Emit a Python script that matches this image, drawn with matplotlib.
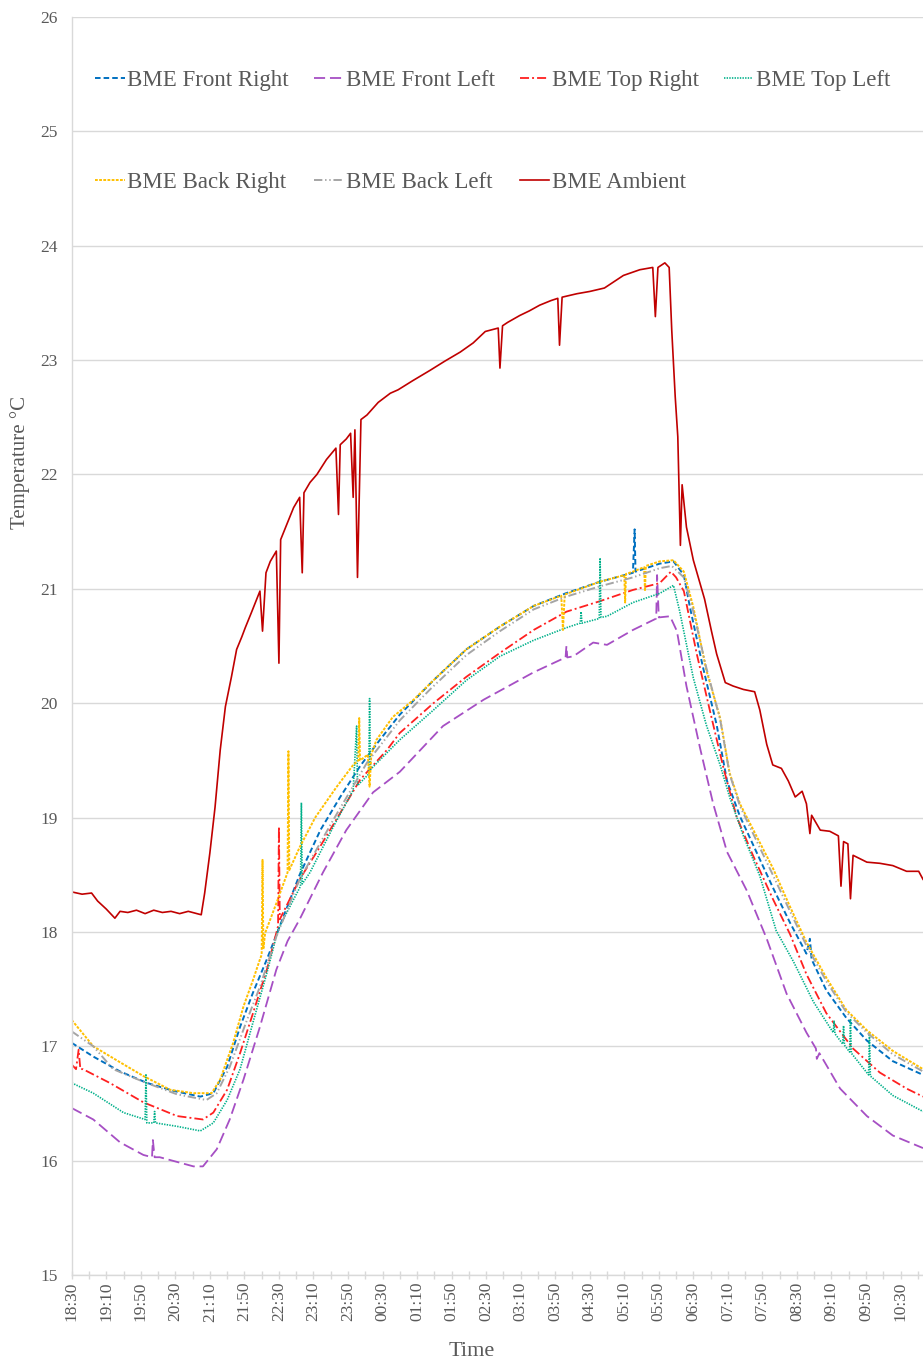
#!/usr/bin/env python3
"""
Enclosure temperature overnight: six BME sensors plus ambient.
Time axis is minutes after 18:30.
"""

import matplotlib
matplotlib.use("Agg")
import matplotlib.pyplot as plt
from matplotlib.ticker import MultipleLocator

# --- data (minutes after 18:30, temperature in C) ---
tick_labels = ["18:30", "19:10", "19:50", "20:30", "21:10", "21:50", "22:30",
               "23:10", "23:50", "00:30", "01:10", "01:50", "02:30", "03:10",
               "03:50", "04:30", "05:10", "05:50", "06:30", "07:10", "07:50",
               "08:30", "09:10", "09:50", "10:30"]

t_front_right = [0, 25, 56, 87, 118, 149, 164, 180, 195, 210, 226, 241, 264, 288,
                 311, 334, 357, 380, 419, 457, 496, 535, 572, 611, 650, 652, 653,
                 681, 697, 709, 716, 731, 747, 759, 774, 793, 812, 832, 851, 855,
                 857, 874, 897, 921, 951, 986]
v_front_right = [17.03, 16.91, 16.78, 16.68, 16.61, 16.56, 16.59, 16.82, 17.17, 17.47,
                 17.76, 18.05, 18.50, 18.89, 19.18, 19.45, 19.68, 19.90, 20.20, 20.47,
                 20.67, 20.85, 20.96, 21.06, 21.14, 21.52, 21.15, 21.22, 21.24, 21.12,
                 20.84, 20.32, 19.81, 19.32, 19.01, 18.70, 18.39, 18.08, 17.81, 17.94,
                 17.76, 17.49, 17.25, 17.05, 16.87, 16.75]

t_front_left = [0, 25, 56, 83, 93, 94, 96, 102, 141, 152, 168, 183, 199, 218, 237,
                250, 264, 291, 318, 349, 380, 430, 477, 535, 572, 573, 574, 581, 604,
                620, 650, 677, 678, 680, 693, 701, 712, 728, 743, 759, 782, 805, 828,
                851, 862, 863, 866, 890, 921, 951, 986]
v_front_left = [16.46, 16.36, 16.16, 16.05, 16.03, 16.18, 16.03, 16.03, 15.95, 15.95,
                16.10, 16.36, 16.71, 17.17, 17.67, 17.92, 18.11, 18.52, 18.89, 19.22,
                19.40, 19.80, 20.03, 20.27, 20.40, 20.50, 20.40, 20.41, 20.53, 20.51,
                20.64, 20.74, 21.12, 20.75, 20.76, 20.63, 20.15, 19.60, 19.12, 18.70,
                18.36, 17.94, 17.46, 17.12, 16.98, 16.89, 16.94, 16.63, 16.39, 16.22,
                16.11]

t_top_right = [0, 5, 8, 10, 13, 44, 83, 122, 152, 164, 180, 195, 210, 226, 239, 240,
               241, 264, 288, 311, 334, 365, 380, 419, 457, 496, 535, 573, 611, 650,
               681, 694, 700, 709, 724, 739, 755, 770, 789, 812, 832, 851, 874, 905,
               936, 967, 986]
v_top_right = [16.84, 16.80, 16.97, 16.80, 16.80, 16.68, 16.51, 16.39, 16.36, 16.42,
               16.62, 16.94, 17.29, 17.67, 18.05, 18.92, 18.11, 18.46, 18.75, 19.04,
               19.33, 19.59, 19.74, 20.00, 20.23, 20.44, 20.64, 20.80, 20.89, 20.99,
               21.05, 21.15, 21.10, 20.98, 20.43, 19.94, 19.43, 19.01, 18.67, 18.29,
               17.98, 17.63, 17.29, 16.98, 16.77, 16.63, 16.56]

t_top_left = [0, 25, 60, 85, 86, 87, 95, 96, 97, 122, 149, 164, 180, 195, 210, 226,
              239, 245, 265, 266, 267, 276, 303, 326, 330, 331, 344, 345, 346, 380,
              419, 457, 496, 535, 573, 589, 590, 591, 611, 612, 613, 620, 650, 681,
              697, 704, 720, 735, 751, 762, 778, 797, 816, 836, 859, 882, 883, 884,
              893, 894, 895, 901, 902, 903, 923, 924, 925, 951, 986]
v_top_left = [16.68, 16.59, 16.42, 16.36, 16.75, 16.33, 16.33, 16.43, 16.33, 16.30,
              16.26, 16.33, 16.53, 16.80, 17.21, 17.64, 18.02, 18.11, 18.40, 19.13,
              18.42, 18.52, 18.92, 19.24, 19.80, 19.28, 19.38, 20.04, 19.42, 19.68,
              19.94, 20.20, 20.41, 20.55, 20.66, 20.70, 20.80, 20.70, 20.74, 21.27,
              20.75, 20.76, 20.88, 20.96, 21.03, 20.81, 20.22, 19.81, 19.46, 19.18,
              18.84, 18.49, 18.01, 17.74, 17.39, 17.12, 17.22, 17.11, 17.02, 17.18,
              17.01, 16.95, 17.24, 16.94, 16.75, 17.12, 16.74, 16.57, 16.43]

t_back_right = [0, 25, 56, 83, 114, 141, 162, 172, 187, 199, 210, 218, 220, 221, 222,
                224, 237, 250, 251, 252, 264, 282, 307, 326, 332, 333, 334, 343, 345,
                347, 353, 372, 396, 419, 457, 496, 535, 567, 569, 571, 611, 640, 641,
                642, 650, 663, 664, 665, 681, 697, 709, 720, 735, 751, 762, 774, 793,
                812, 832, 851, 874, 897, 921, 951, 986]
v_back_right = [17.23, 17.00, 16.86, 16.74, 16.62, 16.59, 16.59, 16.71, 17.03, 17.35,
                17.58, 17.76, 17.80, 18.63, 17.85, 17.99, 18.25, 18.52, 19.58, 18.54,
                18.74, 19.00, 19.27, 19.46, 19.50, 19.87, 19.50, 19.55, 19.27, 19.55,
                19.68, 19.88, 20.03, 20.20, 20.47, 20.67, 20.85, 20.94, 20.64, 20.95,
                21.06, 21.12, 20.88, 21.13, 21.15, 21.19, 20.98, 21.20, 21.24, 21.25,
                21.15, 20.84, 20.29, 19.87, 19.39, 19.12, 18.84, 18.56, 18.22, 17.91,
                17.60, 17.32, 17.14, 16.96, 16.80]

t_back_left = [0, 25, 48, 83, 122, 156, 168, 183, 203, 218, 237, 264, 303, 342, 380,
               415, 457, 496, 535, 572, 611, 650, 681, 695, 709, 720, 735, 751, 762,
               774, 793, 812, 832, 851, 874, 897, 921, 951, 986]
v_back_left = [17.13, 17.00, 16.80, 16.69, 16.58, 16.53, 16.59, 16.82, 17.23, 17.52,
               17.96, 18.46, 18.98, 19.48, 19.85, 20.12, 20.42, 20.63, 20.82, 20.93,
               21.02, 21.10, 21.18, 21.20, 21.10, 20.80, 20.31, 19.86, 19.38, 19.10,
               18.80, 18.50, 18.18, 17.88, 17.57, 17.30, 17.12, 16.93, 16.78]

t_ambient = [0, 12, 23, 30, 40, 50, 56, 65, 75, 85, 95, 105, 115, 125, 135, 145, 150,
             154, 160, 166, 172, 178, 185, 191, 197, 201, 208, 218, 221, 225, 230, 237,
             240, 242, 250, 257, 264, 267, 269, 276, 284, 295, 306, 309, 311, 318, 323,
             326, 328, 331, 335, 342, 355, 369, 378, 395, 415, 432, 450, 465, 479, 494,
             496, 499, 505, 519, 530, 542, 555, 563, 565, 568, 585, 600, 617, 627, 639,
             658, 673, 676, 679, 687, 692, 695, 699, 702, 705, 707, 712, 720, 733, 741,
             747, 757, 766, 778, 791, 797, 805, 812, 822, 830, 838, 846, 851, 855, 857,
             867, 878, 888, 891, 894, 899, 902, 905, 921, 936, 951, 967, 981, 986]
v_ambient = [18.35, 18.33, 18.34, 18.27, 18.20, 18.12, 18.18, 18.17, 18.19, 18.16,
             18.19, 18.17, 18.18, 18.16, 18.18, 18.16, 18.15, 18.34, 18.69, 19.09,
             19.59, 19.97, 20.23, 20.47, 20.58, 20.66, 20.79, 20.98, 20.63, 21.14,
             21.24, 21.33, 20.35, 21.43, 21.58, 21.71, 21.80, 21.14, 21.84, 21.93,
             22.00, 22.13, 22.23, 21.65, 22.26, 22.31, 22.36, 21.80, 22.39, 21.10,
             22.48, 22.52, 22.63, 22.71, 22.74, 22.82, 22.91, 22.99, 23.07, 23.15,
             23.25, 23.28, 22.93, 23.30, 23.33, 23.39, 23.43, 23.48, 23.52, 23.54,
             23.13, 23.55, 23.58, 23.60, 23.63, 23.68, 23.74, 23.79, 23.81, 23.38,
             23.81, 23.85, 23.81, 23.26, 22.68, 22.33, 21.38, 21.91, 21.54, 21.25,
             20.91, 20.63, 20.43, 20.18, 20.15, 20.12, 20.10, 19.94, 19.64, 19.46,
             19.43, 19.32, 19.18, 19.23, 19.12, 18.86, 19.02, 18.89, 18.88, 18.84,
             18.40, 18.79, 18.77, 18.29, 18.67, 18.61, 18.60, 18.58, 18.53, 18.53,
             18.46]

TEXT = "#595959"
GRID = "#D9D9D9"

plt.rcParams.update({
    "font.family": ["Liberation Serif", "DejaVu Serif"],
    "lines.scale_dashes": False,
})

fig = plt.figure(figsize=(9.23, 13.58), dpi=100)
ax = fig.add_axes([0.0777, 0.0611, 0.9223, 0.9264])

series = [
    (t_front_right, v_front_right, "BME Front Right", "#0070C0", (0, (4, 2.2)), 1.4),
    (t_front_left, v_front_left, "BME Front Left", "#A64FC4", (0, (8, 3.5)), 1.3),
    (t_top_right, v_top_right, "BME Top Right", "#FF2020", (0, (6.5, 2.2, 1.4, 2.2)), 1.3),
    (t_top_left, v_top_left, "BME Top Left", "#00B08A", (0, (1, 0.9)), 1.2),
    (t_back_right, v_back_right, "BME Back Right", "#FFC000", (0, (2, 1)), 1.4),
    (t_back_left, v_back_left, "BME Back Left", "#A5A5A5", (0, (6, 2, 1, 2, 1, 2)), 1.4),
    (t_ambient, v_ambient, "BME Ambient", "#C00000", "-", 1.2),
]

handles = []
for t, v, name, color, ls, lw in series:
    h, = ax.plot(t, v, color=color, linestyle=ls, linewidth=lw, label=name)
    handles.append(h)

ax.set_xlim(0, 986)
ax.set_ylim(15, 26)
ax.yaxis.set_major_locator(MultipleLocator(1))
ax.set_xticks(range(0, 40 * len(tick_labels), 40))
ax.set_xticklabels(tick_labels, rotation=90)
ax.xaxis.set_minor_locator(MultipleLocator(20))

ax.grid(True, axis="y", color=GRID, linewidth=1.0)
ax.set_axisbelow(True)
for side in ("top", "right"):
    ax.spines[side].set_visible(False)
for side in ("left", "bottom"):
    ax.spines[side].set_color(GRID)
    ax.spines[side].set_linewidth(1.0)

ax.tick_params(axis="x", which="both", direction="inout", length=6, width=1,
               color=GRID, labelsize=12.5, labelcolor=TEXT, pad=2)
ax.tick_params(axis="y", length=0, labelsize=12.5, labelcolor=TEXT, pad=10)

ax.set_xlabel("Time", fontsize=16, color=TEXT)
ax.set_ylabel("Temperature °C", fontsize=15, color=TEXT)
ax.xaxis.set_label_coords(0.470, -0.053)
ax.yaxis.set_label_coords(-0.049, 0.646)

# legend: 4 columns, reorder so rows read left to right
order = [0, 4, 1, 5, 2, 6, 3]
ax.legend([handles[i] for i in order], [series[i][2] for i in order],
          ncol=4, loc="upper left", bbox_to_anchor=(0.0274, 0.958, 0.934, 0),
          mode="expand", frameon=False, fontsize=16.5, labelcolor=TEXT,
          handlelength=1.3, handletextpad=0.1, labelspacing=3.55, borderpad=0,
          borderaxespad=0)

fig.savefig("out.png", dpi=100)
